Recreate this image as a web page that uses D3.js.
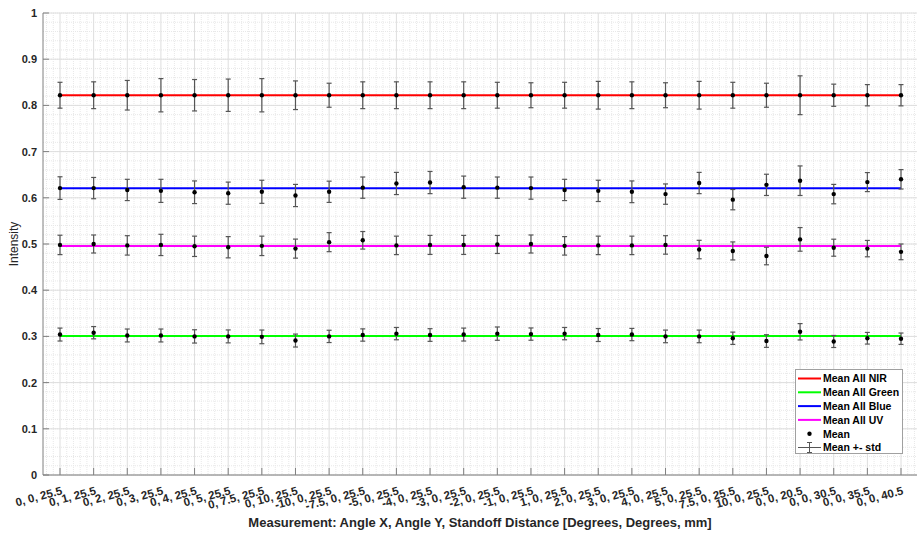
<!DOCTYPE html>
<html><head><meta charset="utf-8">
<script src="https://cdn.jsdelivr.net/npm/d3@7"></script>
<style>
body{margin:0;background:#fff;}
text{font-family:Arial,"Liberation Sans",sans-serif;}
</style></head>
<body><svg id="c" width="917" height="535"></svg>
<script>
const categories = ["0, 0, 25.5","0, 1, 25.5","0, 2, 25.5","0, 3, 25.5","0, 4, 25.5","0, 5, 25.5","0, 7.5, 25.5","0, 10, 25.5","-10, 0, 25.5","-7.5, 0, 25.5","-5, 0, 25.5","-4, 0, 25.5","-3, 0, 25.5","-2, 0, 25.5","-1, 0, 25.5","1, 0, 25.5","2, 0, 25.5","3, 0, 25.5","4, 0, 25.5","5, 0, 25.5","7.5, 0, 25.5","10, 0, 25.5","0, 0, 20.5","0, 0, 30.5","0, 0, 35.5","0, 0, 40.5"];

const nirMean = [0.822,0.822,0.822,0.822,0.822,0.822,0.822,0.822,0.822,0.822,0.822,0.822,0.822,0.822,0.822,0.822,0.822,0.822,0.822,0.822,0.822,0.822,0.822,0.822,0.822,0.822];
const nirStd  = [0.028,0.029,0.032,0.036,0.034,0.035,0.036,0.031,0.026,0.029,0.029,0.029,0.029,0.028,0.027,0.028,0.030,0.029,0.027,0.030,0.028,0.026,0.042,0.024,0.023,0.023];
const nirAll = 0.822;

const blueMean = [0.621,0.621,0.617,0.615,0.612,0.610,0.613,0.605,0.613,0.622,0.631,0.633,0.623,0.622,0.621,0.617,0.615,0.613,0.608,0.632,0.596,0.628,0.637,0.608,0.634,0.640];
const blueStd  = [0.0245,0.023,0.023,0.025,0.0245,0.024,0.025,0.024,0.023,0.023,0.024,0.024,0.024,0.023,0.024,0.023,0.023,0.0235,0.022,0.023,0.022,0.023,0.032,0.021,0.0206,0.021];
const blueAll = 0.6205;

const uvMean = [0.498,0.500,0.497,0.498,0.495,0.493,0.496,0.490,0.504,0.508,0.497,0.498,0.498,0.499,0.500,0.496,0.497,0.497,0.498,0.488,0.485,0.474,0.510,0.492,0.490,0.483];
const uvStd  = [0.021,0.0195,0.021,0.023,0.022,0.023,0.021,0.0206,0.0206,0.019,0.020,0.0206,0.0206,0.0195,0.0195,0.020,0.020,0.020,0.020,0.020,0.0195,0.019,0.0256,0.0184,0.0177,0.017];
const uvAll = 0.4957;

const greenMean = [0.304,0.308,0.302,0.302,0.300,0.300,0.299,0.291,0.300,0.303,0.306,0.303,0.304,0.306,0.305,0.306,0.303,0.304,0.300,0.300,0.296,0.290,0.310,0.289,0.296,0.295];
const greenStd  = [0.014,0.0133,0.014,0.014,0.0144,0.014,0.0148,0.014,0.0133,0.0133,0.0133,0.0137,0.014,0.0144,0.0133,0.0133,0.014,0.0133,0.0137,0.0137,0.0133,0.0137,0.0177,0.013,0.0126,0.0123];
const greenAll = 0.301;

const yTicks = [0,0.1,0.2,0.3,0.4,0.5,0.6,0.7,0.8,0.9,1];
const legendLabels = ["Mean All NIR","Mean All Green","Mean All Blue","Mean All UV","Mean","Mean +- std"];

const seriesList = [
  {name:"NIR", color:"#ff0000", all:nirAll, mean:nirMean, std:nirStd},
  {name:"Blue", color:"#0000ff", all:blueAll, mean:blueMean, std:blueStd},
  {name:"UV", color:"#ff00ff", all:uvAll, mean:uvMean, std:uvStd},
  {name:"Green", color:"#00ff00", all:greenAll, mean:greenMean, std:greenStd}
];

const svg = d3.select("#c");
const L = 43, R = 917, T = 13, B = 475;
const x = d3.scalePoint().domain(categories).range([60, 901]);
const y = d3.scaleLinear().domain([0,1]).range([B, T]);
const step = x.step();

// minor grid
const g = svg.append("g");
const minorY = d3.range(0, 1.0001, 0.02);
g.selectAll(".my").data(minorY).enter().append("line")
  .attr("x1", L).attr("x2", R).attr("y1", d=>y(d)).attr("y2", d=>y(d))
  .attr("stroke","#e8e8e8").attr("stroke-width",1).attr("stroke-dasharray","1,1");
const minorX = [];
for (let i = -1; i < categories.length + 1; i++) for (let k = 1; k < 5; k++) {
  const px = x(categories[0]) + (i + k/5) * step;
  if (px > L && px < R) minorX.push(px);
}
g.selectAll(".mx").data(minorX).enter().append("line")
  .attr("x1", d=>d).attr("x2", d=>d).attr("y1", T).attr("y2", B)
  .attr("stroke","#e8e8e8").attr("stroke-width",1).attr("stroke-dasharray","1,1");
// major grid
g.selectAll(".gy").data(yTicks).enter().append("line")
  .attr("x1", L).attr("x2", R).attr("y1", d=>y(d)).attr("y2", d=>y(d))
  .attr("stroke","#dedede").attr("stroke-width",1);
g.selectAll(".gx").data(categories).enter().append("line")
  .attr("x1", d=>x(d)).attr("x2", d=>x(d)).attr("y1", T).attr("y2", B)
  .attr("stroke","#dedede").attr("stroke-width",1);

// mean lines
seriesList.forEach(s => {
  svg.append("line")
    .attr("x1", x(categories[0])).attr("x2", x(categories[categories.length-1]))
    .attr("y1", y(s.all)).attr("y2", y(s.all))
    .attr("stroke", s.color).attr("stroke-width", 2);
});

// error bars + dots
seriesList.forEach(s => {
  const eg = svg.append("g").attr("stroke","#555").attr("stroke-width",1.2).attr("fill","none");
  categories.forEach((c,i) => {
    const cx = x(c), y1 = y(s.mean[i] + s.std[i]), y2 = y(s.mean[i] - s.std[i]);
    eg.append("line").attr("x1",cx).attr("x2",cx).attr("y1",y1).attr("y2",y2);
    eg.append("line").attr("x1",cx-2.5).attr("x2",cx+2.5).attr("y1",y1).attr("y2",y1);
    eg.append("line").attr("x1",cx-2.5).attr("x2",cx+2.5).attr("y1",y2).attr("y2",y2);
  });
  svg.append("g").selectAll("circle").data(s.mean).enter().append("circle")
    .attr("cx",(d,i)=>x(categories[i])).attr("cy",d=>y(d)).attr("r",2.2).attr("fill","#000");
});

// axes
const axCol = "#808080";
svg.append("line").attr("x1",L).attr("x2",L).attr("y1",T).attr("y2",B).attr("stroke",axCol).attr("stroke-width",1);
svg.append("line").attr("x1",L).attr("x2",R).attr("y1",B).attr("y2",B).attr("stroke",axCol).attr("stroke-width",1);
svg.selectAll(".yt").data(yTicks).enter().append("line")
  .attr("x1",L).attr("x2",L+6).attr("y1",d=>y(d)).attr("y2",d=>y(d)).attr("stroke",axCol);
svg.selectAll(".xt").data(categories).enter().append("line")
  .attr("x1",d=>x(d)).attr("x2",d=>x(d)).attr("y1",B).attr("y2",B-7).attr("stroke",axCol);

svg.selectAll(".yl").data(yTicks).enter().append("text")
  .attr("x",37).attr("y",d=>y(d)+4).attr("text-anchor","end")
  .attr("font-size","11px").attr("font-weight","bold").attr("fill","#262626")
  .text(d => (d===0||d===1) ? String(d) : d.toFixed(1));

svg.selectAll(".xl").data(categories).enter().append("text")
  .attr("transform", d => `translate(${x(d)+3},494) rotate(-15)`)
  .attr("text-anchor","end")
  .attr("font-size","11.5px").attr("font-weight","bold").attr("fill","#262626")
  .text(d=>d);

svg.append("text").attr("x",480).attr("y",527).attr("text-anchor","middle")
  .attr("font-size","13px").attr("font-weight","bold").attr("fill","#262626")
  .text("Measurement: Angle X, Angle Y, Standoff Distance [Degrees, Degrees, mm]");
svg.append("text").attr("transform","translate(18,244) rotate(-90)").attr("text-anchor","middle")
  .attr("font-size","12px").attr("fill","#262626").text("Intensity");

// legend
const lg = svg.append("g");
lg.append("rect").attr("x",795.5).attr("y",369.5).attr("width",107).attr("height",84)
  .attr("fill","#fff").attr("stroke","#a0a0a0").attr("stroke-width",1);
const legColors = ["#ff0000","#00ff00","#0000ff","#ff00ff"];
legendLabels.forEach((lab,i) => {
  const ly = 378.5 + i*13.8;
  if (i < 4) {
    lg.append("line").attr("x1",798).attr("x2",821).attr("y1",ly).attr("y2",ly)
      .attr("stroke",legColors[i]).attr("stroke-width",2);
  } else if (i === 4) {
    lg.append("circle").attr("cx",809.5).attr("cy",ly).attr("r",2.2).attr("fill","#000");
  } else {
    lg.append("line").attr("x1",798).attr("x2",821).attr("y1",ly).attr("y2",ly).attr("stroke","#555");
    lg.append("line").attr("x1",809.5).attr("x2",809.5).attr("y1",ly-5).attr("y2",ly+5).attr("stroke","#555");
    lg.append("line").attr("x1",807).attr("x2",812).attr("y1",ly-5).attr("y2",ly-5).attr("stroke","#555");
    lg.append("line").attr("x1",807).attr("x2",812).attr("y1",ly+5).attr("y2",ly+5).attr("stroke","#555");
  }
  lg.append("text").attr("x",823).attr("y",ly+3.8).attr("font-size","10.5px").attr("font-weight","bold")
    .attr("fill","#000").text(lab);
});
</script></body></html>
